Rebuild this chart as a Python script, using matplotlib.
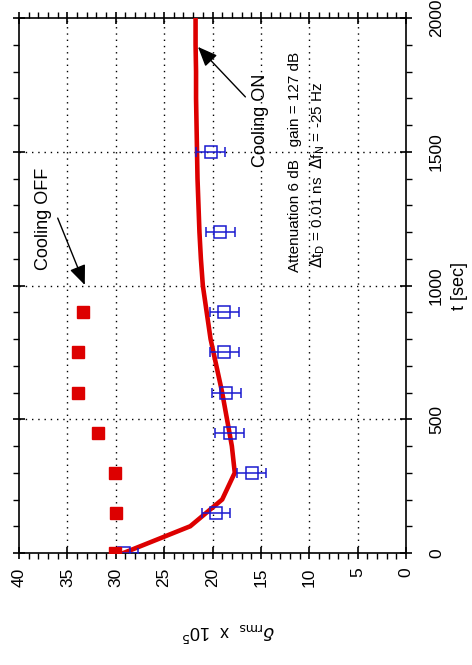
import matplotlib
matplotlib.use('Agg')
import matplotlib.pyplot as plt
from matplotlib.ticker import MultipleLocator

plt.rcParams['font.family'] = ['Liberation Sans', 'DejaVu Sans']

# Model curve (cooling ON)
t_curve = [0, 100, 200, 300, 400, 500, 600, 700, 800, 900, 1000,
           1100, 1200, 1300, 1400, 1500, 1600, 1700, 1800, 1900, 2000]
delta_curve = [29.2, 22.3, 19.0, 17.7, 18.0, 18.5, 19.0, 19.6, 20.2, 20.6, 21.0,
               21.2, 21.35, 21.45, 21.55, 21.6, 21.65, 21.7, 21.7, 21.75, 21.75]

# Measurements, cooling OFF
t_off = [0, 150, 300, 450, 600, 750, 900]
delta_off = [30.1, 30.0, 30.1, 31.8, 33.9, 33.9, 33.4]

# Measurements, cooling ON
t_on = [0, 150, 300, 450, 600, 750, 900, 1200, 1500]
delta_on = [29.1, 19.6, 15.95, 18.2, 18.6, 18.8, 18.8, 19.2, 20.2]
err_on = [1.4, 1.45, 1.5, 1.5, 1.5, 1.5, 1.5, 1.5, 1.5]

delta_ticks = [40, 35, 30, 25, 20, 15, 10, 5, 0]
t_ticks = [0, 500, 1000, 1500, 2000]

RED = '#dd0000'
BLUE = '#1a1ad0'

fig = plt.figure(figsize=(4.72, 6.65), dpi=100)
ax = fig.add_axes([19/472, 1 - 553/665, (406 - 19)/472, (553 - 18)/665])

ax.set_xlim(40, 0)
ax.set_ylim(0, 2000)

# grid
for d in [35, 30, 25, 20, 15, 10, 5]:
    ax.axvline(d, color='black', lw=1, ls=(0, (1, 3.5)), zorder=1)
for tt in [500, 1000, 1500]:
    ax.axhline(tt, color='black', lw=1, ls=(0, (1, 3.5)), zorder=1)

ax.plot(delta_curve, t_curve, color=RED, lw=3.3, zorder=3, solid_joinstyle='miter')
ax.errorbar(delta_on, t_on, xerr=err_on, fmt='s', mfc='none', mec=BLUE,
            ecolor=BLUE, ms=8, mew=1.1, elinewidth=1.1, capsize=3.5, capthick=1.1,
            zorder=4)
ax.plot(delta_off, t_off, 's', color=RED, ms=8.5, zorder=5)

ax.set_xticks(delta_ticks)
ax.set_xticklabels([str(v) for v in delta_ticks])
ax.set_yticks(t_ticks)
ax.set_yticklabels([str(v) for v in t_ticks])
ax.xaxis.set_minor_locator(MultipleLocator(1))
ax.yaxis.set_minor_locator(MultipleLocator(100))

ax.tick_params(which='major', direction='inout', length=9, width=1.2,
               top=True, bottom=True, left=True, right=True,
               labelleft=False, labelright=True, labeltop=False, labelbottom=True,
               labelsize=12.5)
ax.tick_params(which='minor', direction='out', length=4, width=1,
               top=True, bottom=True, left=True, right=True)
ax.tick_params(axis='x', which='major', pad=6, labelrotation=90)
ax.tick_params(axis='y', which='major', pad=12, labelrotation=90)
for lab in ax.get_yticklabels():
    lab.set_va('center')
for s in ax.spines.values():
    s.set_linewidth(1.2)

ax.yaxis.set_label_position('right')
ax.set_ylabel('t [sec]', fontsize=13, rotation=90)
ax.yaxis.set_label_coords((451 - 19) / 387, 0.5)

fig.text(228/472, 1 - 632/665, r'$\delta_{\mathrm{rms}}$  x  10$^5$', rotation=180,
         fontsize=13, ha='center', va='center')

arrow = dict(arrowstyle='-|>,head_length=0.6,head_width=0.25', mutation_scale=20,
             lw=1, color='black', shrinkA=0, shrinkB=0)

ax.text(37.5, 1250, 'Cooling OFF', rotation=90, fontsize=13, ha='center', va='center')
ax.annotate('', xy=(33.2, 1002), xytext=(36.0, 1252), arrowprops=arrow)

ax.text(15.0, 1619, 'Cooling ON', rotation=90, fontsize=13, ha='center', va='center')
ax.annotate('', xy=(21.5, 1892), xytext=(16.6, 1705), arrowprops=arrow)

ax.text(11.5, 1462, 'Attenuation 6 dB   gain = 127 dB', rotation=90, fontsize=11,
        ha='center', va='center')
ax.text(9.1, 1413, r'$\Delta$t$_\mathrm{D}$ = 0.01 ns  $\Delta$f$_\mathrm{N}$ = -25 Hz',
        rotation=90, fontsize=11, ha='center', va='center')

fig.savefig('out.png', dpi=100)
